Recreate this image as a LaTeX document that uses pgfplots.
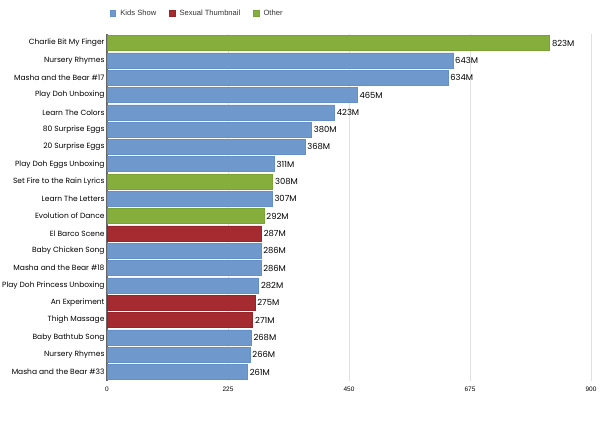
\documentclass[border=0pt]{standalone}
\usepackage{fontspec}
\setmainfont{Poppins}
\newfontfamily\arialf{Liberation Sans}
\usepackage{pgfplots}
\pgfplotsset{compat=1.18}
\definecolor{kids}{HTML}{6F99CD}
\definecolor{kidsb}{HTML}{6390C8}
\definecolor{sex}{HTML}{A52B31}
\definecolor{sexb}{HTML}{94252B}
\definecolor{oth}{HTML}{86AE3C}
\definecolor{othb}{HTML}{7BA334}
\begin{document}
\begin{tikzpicture}
\path[use as bounding box] (0pt,0pt) rectangle (602pt,425pt);
\begin{axis}[
  at={(107pt,44pt)}, anchor=south west,
  scale only axis, width=484pt, height=347pt,
  xbar, bar shift=0pt, bar width=15pt,
  xmin=0, xmax=900, ymin=-0.52, ymax=19.52,
  xtick={0,225,450,675,900},
  ytick={0,...,19},
  yticklabels={Masha and the Bear \#33, Nursery Rhymes, Baby Bathtub Song, Thigh Massage, An Experiment, Play Doh Princess Unboxing, Masha and the Bear \#18, Baby Chicken Song, El Barco Scene, Evolution of Dance, Learn The Letters, Set Fire to the Rain Lyrics, Play Doh Eggs Unboxing, 20 Surprise Eggs, 80 Surprise Eggs, Learn The Colors, Play Doh Unboxing, Masha and the Bear \#17, Nursery Rhymes, Charlie Bit My Finger},
  axis lines*=left,
  x axis line style={draw=none},
  y axis line style={draw=black!60, line width=1.6pt},
  major tick length=0pt,
  xmajorgrids, grid style={black!12, line width=0.6pt},
  /pgf/number format/assume math mode=true,
  xticklabel style={font=\arialf\fontsize{6.5}{7}\selectfont, yshift=-2.5pt},
  yticklabel style={font=\fontsize{7.5}{8}\selectfont, xshift=1pt},
  point meta=x,
  nodes near coords={\pgfmathprintnumber{\pgfplotspointmeta}M},
  nodes near coords style={font=\fontsize{8.4}{9}\selectfont, anchor=west, inner sep=2.2pt, black},
  legend style={draw=none, fill=none, inner sep=0pt, at={(axis description cs:0.0062,1.06)}, anchor=west, font=\arialf\fontsize{7.6}{8}\selectfont, text=black!80,
    /tikz/every odd column/.append style={column sep=2.5pt},
    /tikz/every even column/.append style={column sep=11pt}},
  legend columns=3,
  legend cell align=left,
  legend image code/.code={\fill[#1] (0pt,-2.6pt) rectangle (5.2pt,2.6pt);},
]
\addplot[fill=kids, draw=kidsb, line width=0.5pt] coordinates {
 (643,18) (634,17) (465,16) (423,15) (380,14) (368,13) (311,12) (307,10)
 (286,7) (286,6) (282,5) (268,2) (266,1) (261,0)};
\addplot[fill=sex, draw=sexb, line width=0.5pt] coordinates {
 (287,8) (275,4) (271,3)};
\addplot[fill=oth, draw=othb, line width=0.5pt] coordinates {
 (823,19) (308,11) (292,9)};
\legend{Kids Show, Sexual Thumbnail, Other}
\end{axis}
\end{tikzpicture}
\end{document}
